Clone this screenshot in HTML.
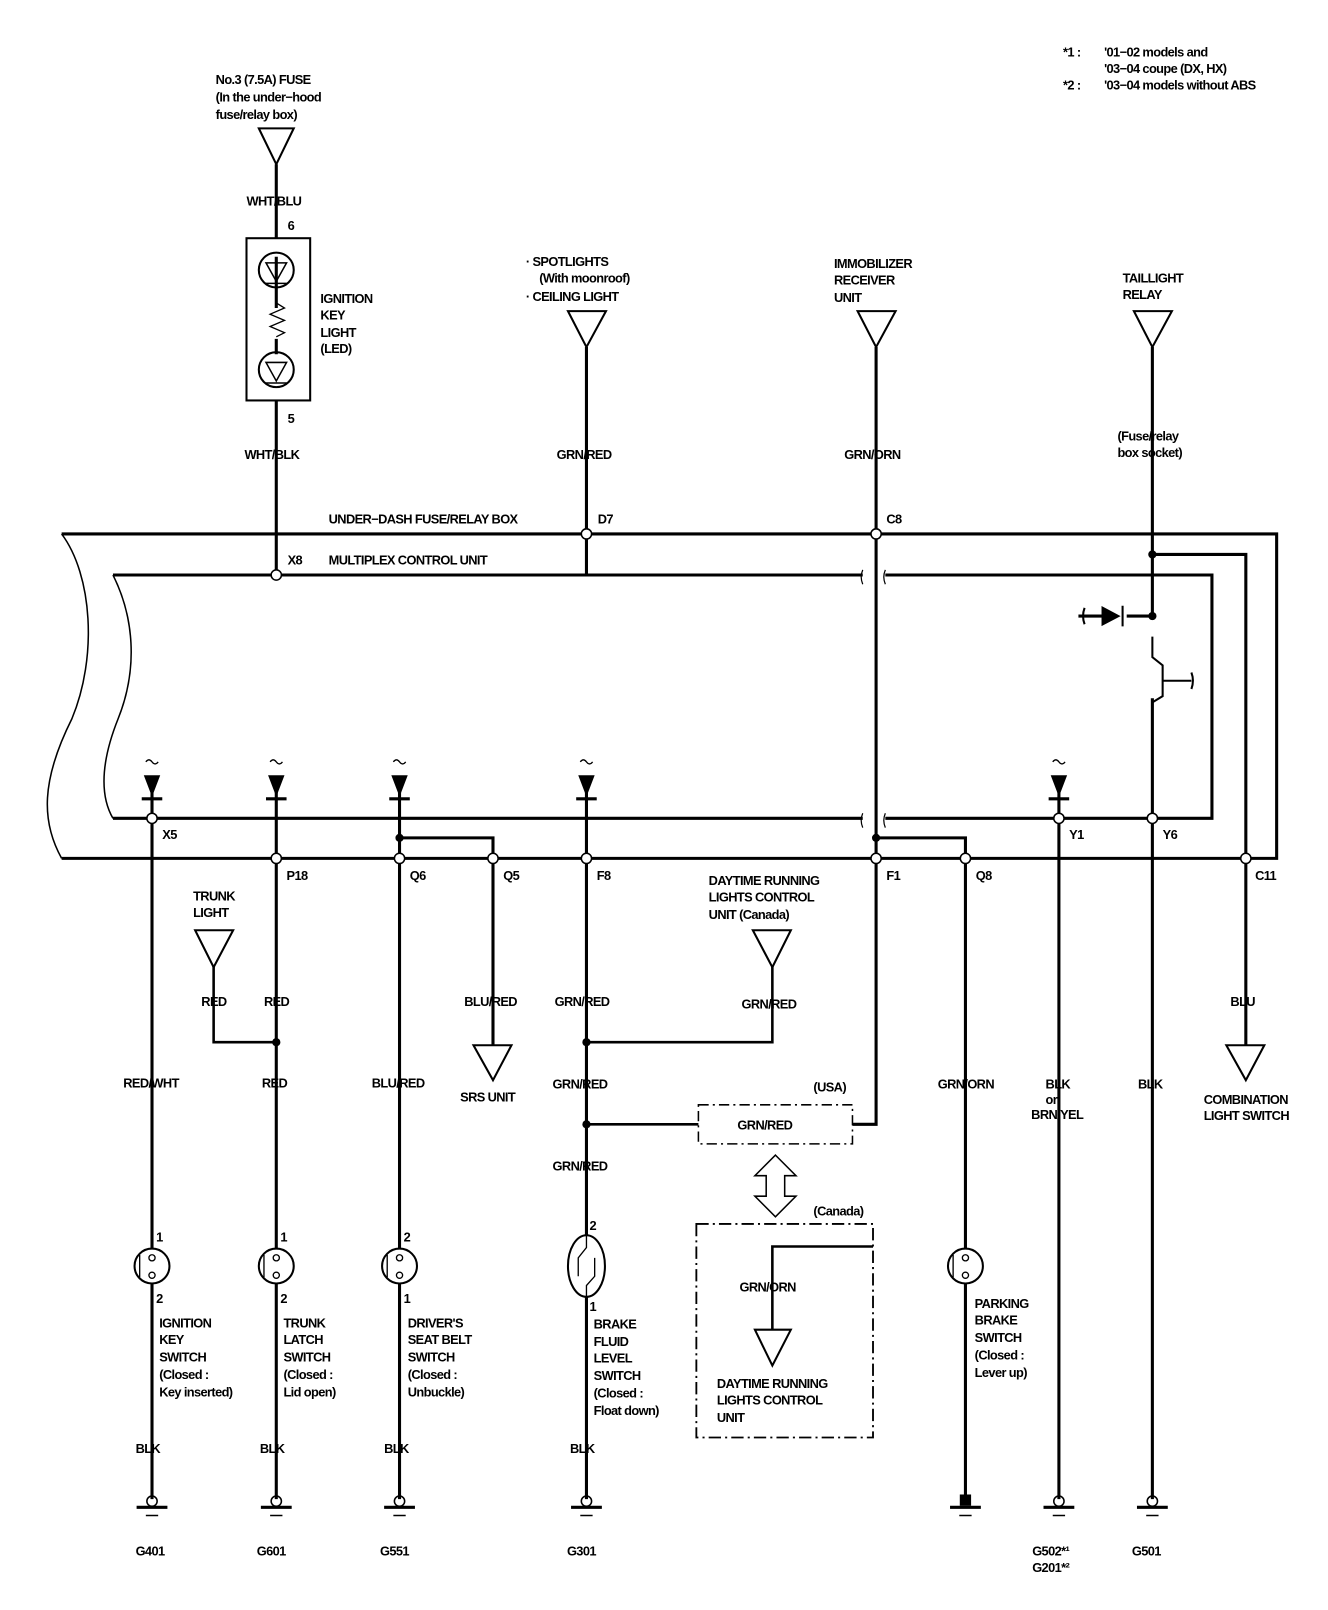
<!DOCTYPE html>
<html><head><meta charset="utf-8"><style>
html,body{margin:0;padding:0;background:#fff}
svg{display:block}
text{font-family:"Liberation Sans",sans-serif;font-weight:bold;font-size:12.5px;fill:#000;letter-spacing:-0.6px}
</style></head><body>
<svg width="1328" height="1610" viewBox="0 0 1293 1568" preserveAspectRatio="none" xmlns="http://www.w3.org/2000/svg">
<g fill="none" stroke="#000">
<path d="M60 520 L1243 520 L1243 836 L60 836" stroke-width="3"/>
<path d="M60 520 C90 560 95 640 70 700 C40 760 40 800 60 836" stroke-width="1.5"/>
<path d="M110 560 L840 560 M862 560 L1180 560 L1180 797 L862 797 M840 797 L110 797" stroke-width="3"/>
<path d="M110 560 C130 600 135 650 115 700 C95 750 100 780 110 797" stroke-width="1.5"/>
<path d="M840 555 q-3 7 0 14 M862 555 q-3 7 0 14 M840 792 q-3 7 0 14 M862 792 q-3 7 0 14" stroke-width="1.2"/>
<path d="M252 125 L286 125 L269 160 Z M553 303 L590 303 L571 338 Z M835 303 L872 303 L853 338 Z M1104 303 L1141 303 L1122 338 Z" stroke-width="2"/>
<path d="M269 160 L269 232 M269 390 L269 560 M269 250 L269 300 M269 330 L269 345" stroke-width="3"/>
<rect x="240" y="232" width="62" height="158" stroke-width="2"/>
<circle cx="269" cy="263" r="17" stroke-width="2"/>
<circle cx="269" cy="360" r="17" stroke-width="2"/>
<path d="M259 256 L279 256 L269 274 Z M259 353 L279 353 L269 371 Z M259 276 h20 M259 373 h20" stroke-width="1.5"/>
<path d="M269 295 l8 5 -14 6 14 6 -14 6 14 6 -8 4" stroke-width="1.3"/>
<path d="M571 338 L571 560" stroke-width="3"/>
<path d="M853 338 L853 1095 L830 1095" stroke-width="3"/>
<path d="M1122 338 L1122 600 M1122 540 L1213 540 L1213 1018 M1122 680 L1122 1460" stroke-width="3"/>
<path d="M1122 600 L1097 600 M1050 600 L1073 600" stroke-width="3"/>
<path d="M1073 591 L1073 609 L1090 600 Z" fill="#000"/>
<path d="M1093 590 L1093 610 M1056 592 q-3 8 0 16" stroke-width="2"/>
<path d="M1122 620 L1122 640 L1132 648 L1132 678 L1122 684 M1132 663 L1160 663 M1160 655 q3 8 0 16" stroke-width="2"/>
<path d="M148 770 L148 1460 M269 770 L269 1460 M389 770 L389 1460 M389 816 L480 816 L480 1018 M571 770 L571 1460 M853 816 L940 816 L940 1460 M1031 770 L1031 1460" stroke-width="3"/>
<path d="M208 940 L208 1015 L269 1015 M571 1015 L752 1015 L752 940 M571 1095 L680 1095" stroke-width="2.5"/>
<path d="M142 742 q3 -4 6 0 q3 4 6 0 M263 742 q3 -4 6 0 q3 4 6 0 M383 742 q3 -4 6 0 q3 4 6 0 M565 742 q3 -4 6 0 q3 4 6 0 M1025 742 q3 -4 6 0 q3 4 6 0" stroke-width="1.3"/>
<path d="M138 778 h20 M259 778 h20 M379 778 h20 M561 778 h20 M1021 778 h20" stroke-width="3"/>
<path d="M190 906 L227 906 L208 942 Z M733 906 L770 906 L752 942 Z M461 1018 L498 1018 L480 1052 Z M1194 1018 L1231 1018 L1213 1052 Z M735 1295 L770 1295 L752 1330 Z" stroke-width="2"/>
<g stroke-width="2" fill="#fff">
<circle cx="148" cy="1233" r="17"/><circle cx="269" cy="1233" r="17"/><circle cx="389" cy="1233" r="17"/><circle cx="940" cy="1233" r="17"/>
<ellipse cx="571" cy="1233" rx="18" ry="30"/>
</g>
<g stroke-width="1.3">
<path d="M136 1222 v22 M257 1222 v22 M377 1222 v22 M928 1222 v22"/>
<circle cx="148" cy="1225" r="3"/><circle cx="148" cy="1242" r="3"/>
<circle cx="269" cy="1225" r="3"/><circle cx="269" cy="1242" r="3"/>
<circle cx="389" cy="1225" r="3"/><circle cx="389" cy="1242" r="3"/>
<circle cx="940" cy="1225" r="3"/><circle cx="940" cy="1242" r="3"/>
<path d="M571 1203 L571 1215 L563 1225 L563 1243 M579 1225 L579 1243 L571 1252 L571 1263"/>
</g>
<rect x="680" y="1076" width="150" height="38" stroke-width="1.5" stroke-dasharray="10 4 2 4"/>
<rect x="678" y="1192" width="172" height="208" stroke-width="1.8" stroke-dasharray="12 4 2 4"/>
<path d="M752 1295 L752 1214 L850 1214" stroke-width="2.5"/>
<path d="M755 1125 L775 1145 L764 1145 L764 1165 L775 1165 L755 1185 L735 1165 L746 1165 L746 1145 L735 1145 Z" stroke-width="1.5"/>
<g stroke-width="1.5">
<circle cx="148" cy="1462" r="5"/><circle cx="269" cy="1462" r="5"/><circle cx="389" cy="1462" r="5"/><circle cx="571" cy="1462" r="5"/><circle cx="1031" cy="1462" r="5"/><circle cx="1122" cy="1462" r="5"/>
<path d="M133 1468 h30 M254 1468 h30 M374 1468 h30 M556 1468 h30 M925 1468 h30 M1016 1468 h30 M1107 1468 h30" stroke-width="3"/>
<path d="M142 1476 h12 M263 1476 h12 M383 1476 h12 M565 1476 h12 M934 1476 h12 M1025 1476 h12 M1116 1476 h12"/>
</g>
<rect x="935" y="1456" width="10" height="10" fill="#000"/>
<g fill="#fff" stroke-width="1.5">
<circle cx="269" cy="560" r="5"/><circle cx="571" cy="520" r="5"/><circle cx="853" cy="520" r="5"/>
<circle cx="148" cy="797" r="5"/><circle cx="1031" cy="797" r="5"/><circle cx="1122" cy="797" r="5"/>
<circle cx="269" cy="836" r="5"/><circle cx="389" cy="836" r="5"/><circle cx="480" cy="836" r="5"/><circle cx="571" cy="836" r="5"/><circle cx="853" cy="836" r="5"/><circle cx="940" cy="836" r="5"/><circle cx="1213" cy="836" r="5"/>
</g>
</g>
<g fill="#000">
<path d="M140 755 L156 755 L148 776 Z M261 755 L277 755 L269 776 Z M381 755 L397 755 L389 776 Z M563 755 L579 755 L571 776 Z M1023 755 L1039 755 L1031 776 Z"/>
<circle cx="1122" cy="540" r="4"/><circle cx="1122" cy="600" r="4"/><circle cx="389" cy="816" r="4"/><circle cx="853" cy="816" r="4"/>
<circle cx="269" cy="1015" r="4"/><circle cx="571" cy="1015" r="4"/><circle cx="571" cy="1095" r="4"/>
</g>
<text x="1035" y="55">*1 :</text><text x="1075" y="55">'01−02 models and</text>
<text x="1075" y="71">'03−04 coupe (DX, HX)</text>
<text x="1035" y="87">*2 :</text><text x="1075" y="87">'03−04 models without ABS</text>
<text x="210" y="82">No.3 (7.5A) FUSE</text>
<text x="210" y="99">(In the under−hood</text>
<text x="210" y="116">fuse/relay box)</text>
<text x="240" y="200">WHT/BLU</text>
<text x="280" y="224">6</text>
<text x="312" y="295">IGNITION</text><text x="312" y="311">KEY</text><text x="312" y="328">LIGHT</text><text x="312" y="344">(LED)</text>
<text x="280" y="412">5</text>
<text x="238" y="447">WHT/BLK</text>
<text x="512" y="259">· SPOTLIGHTS</text><text x="525" y="275">(With moonroof)</text><text x="512" y="293">· CEILING LIGHT</text>
<text x="542" y="447">GRN/RED</text>
<text x="812" y="261">IMMOBILIZER</text><text x="812" y="277">RECEIVER</text><text x="812" y="294">UNIT</text>
<text x="822" y="447">GRN/ORN</text>
<text x="1093" y="275">TAILLIGHT</text><text x="1093" y="291">RELAY</text>
<text x="1088" y="429">(Fuse/relay</text><text x="1088" y="445">box socket)</text>
<text x="320" y="510">UNDER−DASH FUSE/RELAY BOX</text>
<text x="582" y="510">D7</text><text x="863" y="510">C8</text>
<text x="280" y="550">X8</text><text x="320" y="550">MULTIPLEX CONTROL UNIT</text>
<text x="158" y="817">X5</text><text x="1041" y="817">Y1</text><text x="1132" y="817">Y6</text>
<text x="279" y="857">P18</text><text x="399" y="857">Q6</text><text x="490" y="857">Q5</text><text x="581" y="857">F8</text><text x="863" y="857">F1</text><text x="950" y="857">Q8</text><text x="1222" y="857">C11</text>
<text x="188" y="877">TRUNK</text><text x="188" y="893">LIGHT</text>
<text x="690" y="862">DAYTIME RUNNING</text><text x="690" y="878">LIGHTS CONTROL</text><text x="690" y="895">UNIT (Canada)</text>
<text x="196" y="980">RED</text><text x="257" y="980">RED</text>
<text x="452" y="980">BLU/RED</text><text x="540" y="980">GRN/RED</text><text x="722" y="982">GRN/RED</text>
<text x="1198" y="980">BLU</text>
<text x="120" y="1059">RED/WHT</text><text x="255" y="1059">RED</text><text x="362" y="1059">BLU/RED</text>
<text x="448" y="1073">SRS UNIT</text><text x="538" y="1060">GRN/RED</text>
<text x="792" y="1063">(USA)</text><text x="718" y="1100">GRN/RED</text>
<text x="913" y="1060">GRN/ORN</text>
<text x="1018" y="1060">BLK</text><text x="1018" y="1075" font-size="9">or</text><text x="1004" y="1090">BRN/YEL</text>
<text x="1108" y="1060">BLK</text>
<text x="1172" y="1075">COMBINATION</text><text x="1172" y="1091">LIGHT SWITCH</text>
<text x="538" y="1140">GRN/RED</text>
<text x="792" y="1184">(Canada)</text>
<text x="152" y="1209">1</text><text x="152" y="1269">2</text>
<text x="273" y="1209">1</text><text x="273" y="1269">2</text>
<text x="393" y="1209">2</text><text x="393" y="1269">1</text>
<text x="574" y="1198">2</text><text x="574" y="1277">1</text>
<text x="720" y="1258">GRN/ORN</text>
<text x="155" y="1293">IGNITION</text><text x="155" y="1309">KEY</text><text x="155" y="1326">SWITCH</text><text x="155" y="1343">(Closed :</text><text x="155" y="1360">Key inserted)</text>
<text x="276" y="1293">TRUNK</text><text x="276" y="1309">LATCH</text><text x="276" y="1326">SWITCH</text><text x="276" y="1343">(Closed :</text><text x="276" y="1360">Lid open)</text>
<text x="397" y="1293">DRIVER'S</text><text x="397" y="1309">SEAT BELT</text><text x="397" y="1326">SWITCH</text><text x="397" y="1343">(Closed :</text><text x="397" y="1360">Unbuckle)</text>
<text x="578" y="1294">BRAKE</text><text x="578" y="1311">FLUID</text><text x="578" y="1327">LEVEL</text><text x="578" y="1344">SWITCH</text><text x="578" y="1361">(Closed :</text><text x="578" y="1378">Float down)</text>
<text x="698" y="1352">DAYTIME RUNNING</text><text x="698" y="1368">LIGHTS CONTROL</text><text x="698" y="1385">UNIT</text>
<text x="949" y="1274">PARKING</text><text x="949" y="1290">BRAKE</text><text x="949" y="1307">SWITCH</text><text x="949" y="1324">(Closed :</text><text x="949" y="1341">Lever up)</text>
<text x="132" y="1415">BLK</text><text x="253" y="1415">BLK</text><text x="374" y="1415">BLK</text><text x="555" y="1415">BLK</text>
<text x="132" y="1515">G401</text><text x="250" y="1515">G601</text><text x="370" y="1515">G551</text><text x="552" y="1515">G301</text>
<text x="1005" y="1515">G502*¹</text><text x="1005" y="1531">G201*²</text><text x="1102" y="1515">G501</text>
</svg>
</body></html>
